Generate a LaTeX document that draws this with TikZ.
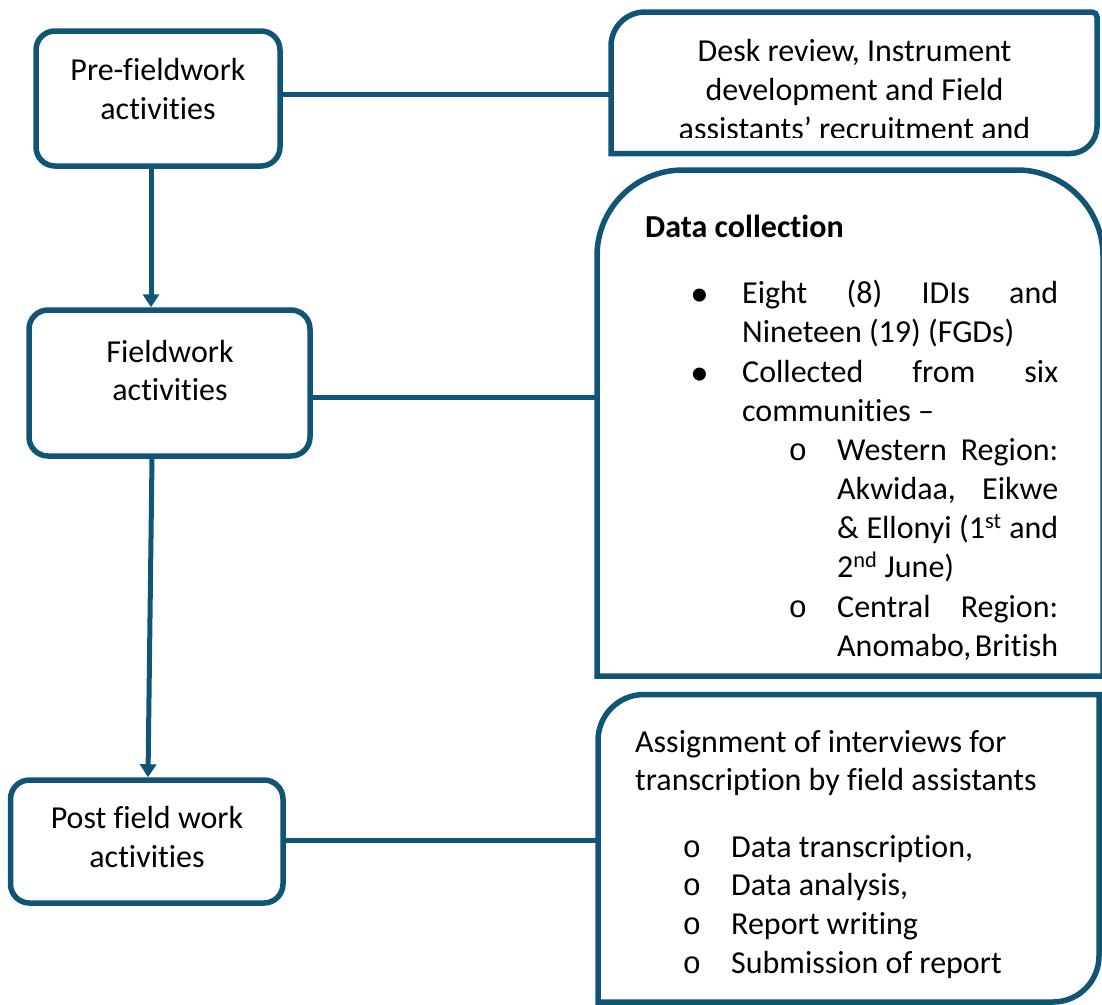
\documentclass[tikz,border=0pt]{standalone}
\usepackage{fontspec}
\setmainfont[Ligatures={NoCommon,NoRare,NoContextual}]{Carlito}
\newfontfamily\monob{Liberation Mono}
\newfontfamily\bulf{Liberation Sans}
\usetikzlibrary{arrows.meta,calc}
\definecolor{frame}{RGB}{16,84,118}
\begin{document}
\begin{tikzpicture}[x=1pt,y=-1pt,
  box/.style={draw=frame, line width=5.5pt, rounded corners=19pt, fill=white, inner sep=0pt},
  rbox/.style={draw=frame, line width=5.5pt, fill=white},
  conn/.style={draw=frame, line width=5pt},
  arr/.style={draw=frame, line width=5pt, -{Triangle[width=16pt,length=13pt]}},
  txt/.style={font=\fontsize{32}{39}\selectfont, inner sep=0pt, anchor=base, text=black},
  txtl/.style={txt, anchor=base west},
  bul/.style={font=\bulf\fontsize{48}{39}\selectfont, inner sep=0pt, anchor=base, text=black},
  obul/.style={font=\monob\fontsize{31}{39}\selectfont, inner sep=0pt, anchor=base, text=black}
]
\useasboundingbox (0,0) rectangle (1102,1004);

% left boxes
\node[box, minimum width=244pt, minimum height=135pt] (pre) at (158,98.5) {};
\node[box, minimum width=281pt, minimum height=146pt] (fld) at (169.5,383) {};
\node[box, minimum width=272.5pt, minimum height=123pt] (post) at (146.75,841.5) {};

% right boxes
\path[rbox] (611,153.5) -- (611,46) .. controls (611,27.2) and (626.2,12) .. (645,12)
  -- (1092,12) .. controls (1094.8,12) and (1097,14.2) .. (1097,17)
  -- (1097,126.5) .. controls (1097,141.4) and (1084.9,153.5) .. (1070,153.5) -- cycle;
\path[rbox] (597,676) -- (597,256) .. controls (597,208.5) and (635.5,170) .. (683,170)
  -- (1017,170) .. controls (1064.5,170) and (1103,208.5) .. (1103,256) -- (1103,676) -- cycle;
\path[rbox] (598,1002) -- (598,740.5) .. controls (598,715.1) and (618.6,694.5) .. (644,694.5)
  -- (1099,694.5) -- (1099,956) .. controls (1099,981.4) and (1078.4,1002) .. (1053,1002) -- cycle;

\coordinate (desk-w) at (611,94);
\coordinate (dat-w) at (597,397);
\coordinate (prt-w) at (598,840);

% connectors
\draw[conn] (pre.east |- desk-w) -- (desk-w);
\draw[conn] (fld.east |- dat-w) -- (dat-w);
\draw[conn] (post.east |- prt-w) -- (prt-w);
\draw[arr] ([xshift=-7pt]pre.south) -- ([xshift=-18.5pt]fld.north);
\draw[arr] ([xshift=-17.5pt]fld.south) -- ([xshift=1.25pt]post.north);

% left texts
\node[txt] (pre-a) at (158,80) {Pre-fieldwork};
\node[txt] (pre-b) at (158,119) {activities};
\node[txt] (fld-a) at (170,362) {Fieldwork};
\node[txt] (fld-b) at (170,400) {activities};
\node[txt] (post-a) at (147,828) {Post field work};
\node[txt] (post-b) at (147,867) {activities};

% desk text (clipped)
\begin{scope}
\clip (611,12) rectangle (1097,137.5);
\node[txt] (desk-a) at (854.5,61) {Desk review, Instrument};
\node[txt] (desk-b) at (854.5,100) {development and Field};
\node[txt] (desk-c) at (854.5,139) {assistants’ recruitment and};
\end{scope}

% data collection
\node[txtl, font=\fontsize{32}{39}\selectfont\bfseries] (dc-h) at (645,237) {Data collection};
\node[bul] (b1) at (700,311) {•};
\node[txtl] (l1) at (742,303) {\hbox to 316pt{Eight\hfill (8)\hfill IDIs\hfill and}};
\node[txtl] (l2) at (742,342) {Nineteen (19) (FGDs)};
\node[bul] (b2) at (700,390) {•};
\node[txtl] (l3) at (742,382) {\hbox to 316pt{Collected\hfill from\hfill six}};
\node[txtl] (l4) at (742,421) {communities –};
\node[obul] (o1) at (798,460) {o};
\node[txtl] (l5) at (837,460) {\hbox to 221pt{Western\hfill Region:}};
\node[txtl] (l6) at (837,499) {\hbox to 221pt{Akwidaa,\hfill Eikwe}};
\node[txtl] (l7) at (837,538) {\hbox to 221pt{\&\hfill Ellonyi\hfill (1\textsuperscript{st}\hfill and}};
\node[txtl] (l8) at (837,577) {2\textsuperscript{nd} June)};
\node[obul] (o2) at (798,617) {o};
\node[txtl] (l9) at (837,617) {\hbox to 221pt{Central\hfill Region:}};
\node[txtl] (l10) at (837,656) {\hbox to 221pt{Anomabo,\hfill British}};

% post field text
\node[txtl] (p1) at (635,752) {Assignment of interviews for};
\node[txtl] (p2) at (635,790) {transcription by field assistants};
\node[obul] (o3) at (692,857) {o};
\node[txtl] (p3) at (731,857) {Data transcription,};
\node[obul] (o4) at (692,895) {o};
\node[txtl] (p4) at (731,895) {Data analysis,};
\node[obul] (o5) at (692,934) {o};
\node[txtl] (p5) at (731,934) {Report writing};
\node[obul] (o6) at (692,973) {o};
\node[txtl] (p6) at (731,973) {Submission of report};
\end{tikzpicture}
\end{document}
